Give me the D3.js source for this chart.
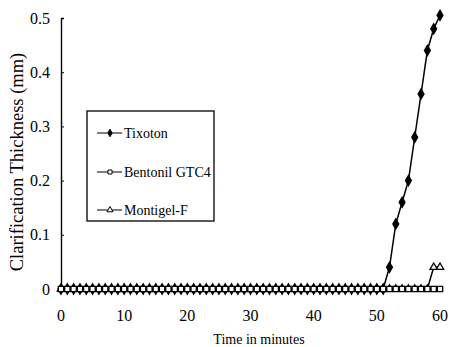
<!DOCTYPE html>
<html>
<head>
<meta charset="utf-8">
<script src="https://cdn.jsdelivr.net/npm/d3@7"></script>
<style>
  body { margin: 0; background: #fff; }
</style>
</head>
<body>
<div id="chart"></div>
<script>
// time in minutes, one reading per minute
const minutes = [0, 1, 2, 3, 4, 5, 6, 7, 8, 9, 10, 11, 12, 13, 14, 15, 16, 17, 18, 19, 20,
    21, 22, 23, 24, 25, 26, 27, 28, 29, 30, 31, 32, 33, 34, 35, 36, 37, 38, 39, 40,
    41, 42, 43, 44, 45, 46, 47, 48, 49, 50, 51, 52, 53, 54, 55, 56, 57, 58, 59, 60];

const tixoton = [0, 0, 0, 0, 0, 0, 0, 0, 0, 0, 0, 0, 0, 0, 0, 0, 0, 0, 0, 0, 0,
    0, 0, 0, 0, 0, 0, 0, 0, 0, 0, 0, 0, 0, 0, 0, 0, 0, 0, 0, 0,
    0, 0, 0, 0, 0, 0, 0, 0, 0, 0, 0, 0.04, 0.12, 0.16, 0.2, 0.28, 0.36, 0.44, 0.48, 0.505];

const bentonil = [0, 0, 0, 0, 0, 0, 0, 0, 0, 0, 0, 0, 0, 0, 0, 0, 0, 0, 0, 0, 0,
    0, 0, 0, 0, 0, 0, 0, 0, 0, 0, 0, 0, 0, 0, 0, 0, 0, 0, 0, 0,
    0, 0, 0, 0, 0, 0, 0, 0, 0, 0, 0, 0, 0, 0, 0, 0, 0, 0, 0, 0];

const montigel = [0, 0, 0, 0, 0, 0, 0, 0, 0, 0, 0, 0, 0, 0, 0, 0, 0, 0, 0, 0, 0,
    0, 0, 0, 0, 0, 0, 0, 0, 0, 0, 0, 0, 0, 0, 0, 0, 0, 0, 0, 0,
    0, 0, 0, 0, 0, 0, 0, 0, 0, 0, 0, 0, 0, 0, 0, 0, 0, 0, 0.04, 0.04];

const seriesNames = ['Tixoton', 'Bentonil GTC4', 'Montigel-F'];
const xTicks = [0, 10, 20, 30, 40, 50, 60];
const yTicks = [0, 0.1, 0.2, 0.3, 0.4, 0.5];

const width = 451, height = 347;
const serif = 'Liberation Serif';

const svg = d3.select('#chart')
    .append('svg')
    .attr('width', width)
    .attr('height', height);

svg.append('rect').attr('width', width).attr('height', height).attr('fill', '#fff');

const x = d3.scaleLinear().domain([0, 60]).range([61, 440]);
const y = d3.scaleLinear().domain([0, 0.5]).range([289, 18]);

// y axis (ticks pointing inward)
const yAxis = svg.append('g')
    .attr('transform', `translate(${x(0)},0)`)
    .call(d3.axisRight(y).tickValues(yTicks).tickSize(3).tickFormat(''));
yAxis.select('.domain').attr('stroke', '#000').attr('stroke-width', 1.4);
yAxis.selectAll('.tick line').attr('stroke', '#000');

svg.append('g').selectAll('text')
    .data(yTicks)
    .enter()
    .append('text')
    .attr('x', 50)
    .attr('y', d => y(d))
    .attr('dy', '0.35em')
    .attr('text-anchor', 'end')
    .attr('font-family', serif)
    .attr('font-size', 16)
    .text(d => d === 0 ? '0' : d3.format('.1f')(d));

// x axis
svg.append('line')
    .attr('x1', x(0)).attr('x2', x(60))
    .attr('y1', y(0)).attr('y2', y(0))
    .attr('stroke', '#000');

svg.append('g').selectAll('text')
    .data(xTicks)
    .enter()
    .append('text')
    .attr('x', d => x(d))
    .attr('y', 315)
    .attr('dy', '0.35em')
    .attr('text-anchor', 'middle')
    .attr('font-family', serif)
    .attr('font-size', 16)
    .text(d => d);

svg.append('text')
    .attr('x', 259)
    .attr('y', 344)
    .attr('text-anchor', 'middle')
    .attr('font-family', serif)
    .attr('font-size', 14)
    .text('Time in minutes');

svg.append('text')
    .attr('transform', `translate(23,162) rotate(-90)`)
    .attr('text-anchor', 'middle')
    .attr('font-family', serif)
    .attr('font-size', 18.5)
    .text('Clarification Thickness (mm)');

// markers
const diamond = d3.symbol().type(d3.symbolDiamond).size(30);
const square = d3.symbol().type(d3.symbolSquare).size(28);
const triangle = d3.symbol().type(d3.symbolTriangle).size(24);

const series = [
    { name: seriesNames[0], values: tixoton, symbol: diamond, fill: '#000' },
    { name: seriesNames[1], values: bentonil, symbol: square, fill: '#fff' },
    { name: seriesNames[2], values: montigel, symbol: triangle, fill: '#fff' }
];

const line = d3.line()
    .x((d, i) => x(minutes[i]))
    .y(d => y(d));

// Tixoton first, then Montigel-F, Bentonil squares on top of the baseline
[series[0], series[2], series[1]].forEach(s => {
    const g = svg.append('g');
    g.append('path')
        .attr('d', line(s.values))
        .attr('fill', 'none')
        .attr('stroke', '#000')
        .attr('stroke-width', 1.5);
    g.selectAll('path.mark')
        .data(s.values)
        .enter()
        .append('path')
        .attr('class', 'mark')
        .attr('d', s.symbol)
        .attr('transform', (d, i) => `translate(${x(minutes[i])},${y(d)})`)
        .attr('fill', s.fill)
        .attr('stroke', '#000')
        .attr('stroke-width', 1.3);
});

// legend
const legend = svg.append('g');
legend.append('rect')
    .attr('x', 87).attr('y', 111)
    .attr('width', 127).attr('height', 110)
    .attr('fill', '#fff')
    .attr('stroke', '#000')
    .attr('stroke-width', 1.3);

const legendY = [133, 172, 210];
series.forEach((s, i) => {
    const ly = legendY[i];
    legend.append('line')
        .attr('x1', 97).attr('x2', 122)
        .attr('y1', ly).attr('y2', ly)
        .attr('stroke', '#000');
    legend.append('path')
        .attr('d', d3.symbol().type([d3.symbolDiamond, d3.symbolSquare, d3.symbolTriangle][i]).size(16))
        .attr('transform', `translate(110,${ly})`)
        .attr('fill', s.fill)
        .attr('stroke', '#000');
    legend.append('text')
        .attr('x', 124)
        .attr('y', ly)
        .attr('dy', '0.35em')
        .attr('font-family', serif)
        .attr('font-size', 14)
        .text(s.name);
});
</script>
</body>
</html>
